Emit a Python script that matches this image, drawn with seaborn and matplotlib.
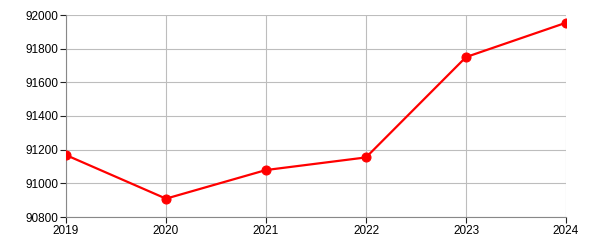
import matplotlib
matplotlib.use("Agg")
import matplotlib.pyplot as plt
import seaborn as sns
import pandas as pd

years = [2019, 2020, 2021, 2022, 2023, 2024]
values = [91168, 90909, 91079, 91154, 91750, 91954]
y_ticks = [90800, 91000, 91200, 91400, 91600, 91800, 92000]

df = pd.DataFrame({"year": years, "value": values})

sns.set_style("white")
plt.rcParams["font.family"] = ["Liberation Sans", "DejaVu Sans"]

fig = plt.figure(figsize=(6, 2.5), dpi=100)
ax = fig.add_axes([66/600, 1 - 217/250, 500/600, 202/250])

sns.lineplot(data=df, x="year", y="value", ax=ax, color="#ff0000", linewidth=1.6,
             marker="o", markersize=6.5, markeredgecolor="#ff0000", zorder=3)

ax.set_xlim(years[0], years[-1])
ax.set_ylim(y_ticks[0], y_ticks[-1])
ax.set_xticks(years)
ax.set_xticklabels([str(y) for y in years])
ax.set_yticks(y_ticks)
ax.set_yticklabels([str(t) for t in y_ticks])
ax.set_xlabel("")
ax.set_ylabel("")

ax.grid(True, color="#bdbdbd", linewidth=0.8)
for s in ["top", "right"]:
    ax.spines[s].set_visible(False)
for s in ["left", "bottom"]:
    ax.spines[s].set_color("#888888")
    ax.spines[s].set_linewidth(0.8)
ax.tick_params(axis="both", length=4, width=0.8, color="#222222", labelsize=8.5,
               labelcolor="#000000", pad=1.5, direction="out", bottom=True, left=True)
for lbl in ax.get_xticklabels():
    lbl.set_clip_on(False)

fig.savefig("out.png", dpi=100)
